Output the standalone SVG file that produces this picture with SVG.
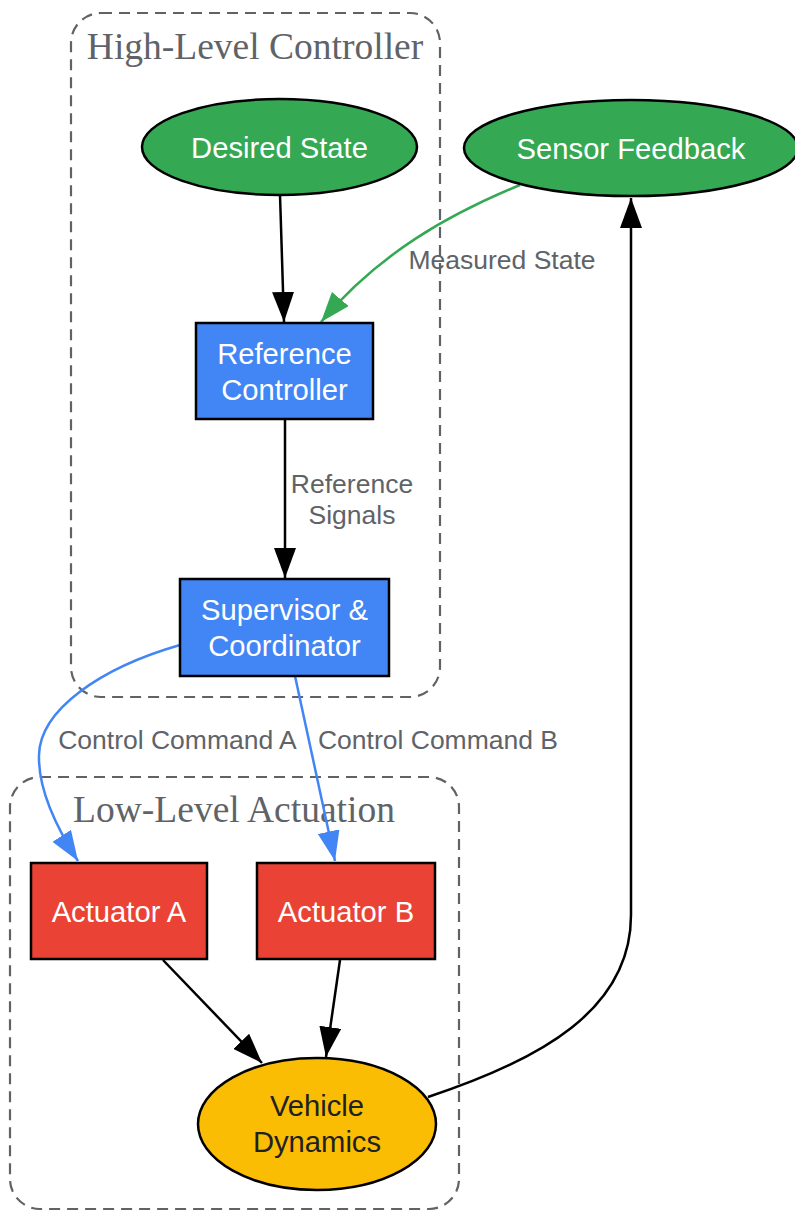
<svg xmlns="http://www.w3.org/2000/svg" width="795" height="1211" viewBox="0 0 795 1211">
<style>
.cluster{fill:none;stroke:#5f6368;stroke-width:2.2;stroke-dasharray:11,7}
.ctitle{font-family:"Liberation Serif","Times New Roman",serif;font-size:37.5px;fill:#5f6368;text-anchor:middle}
.node{stroke:#000;stroke-width:2.5}
.nt{font-family:"Liberation Sans",Arial,sans-serif;font-size:29.2px;fill:#fff;text-anchor:middle}
.nt.dark{fill:#202124}
.el{font-family:"Liberation Sans",Arial,sans-serif;font-size:26.5px;fill:#5f6368;text-anchor:middle}
.e{fill:none;stroke-width:2.5}
.k{stroke:#000}
.g{stroke:#34a853}
.b{stroke:#4285f4}
</style>
<defs>
<marker id="ak" markerUnits="userSpaceOnUse" markerWidth="30" markerHeight="22" refX="30" refY="11" orient="auto"><path d="M0,0 L30,11 L0,22 Z" fill="#000"/></marker>
<marker id="ag" markerUnits="userSpaceOnUse" markerWidth="30" markerHeight="22" refX="30" refY="11" orient="auto"><path d="M0,0 L30,11 L0,22 Z" fill="#34a853"/></marker>
<marker id="ab" markerUnits="userSpaceOnUse" markerWidth="30" markerHeight="22" refX="30" refY="11" orient="auto"><path d="M0,0 L30,11 L0,22 Z" fill="#4285f4"/></marker>
</defs>
<rect width="795" height="1211" fill="#fff"/>
<g id="cluster-high">
<rect class="cluster" x="71" y="13" width="369" height="684" rx="30"/>
<text class="ctitle" x="255" y="59">High-Level Controller</text>
</g>
<g id="cluster-low">
<rect class="cluster" x="10" y="777" width="449" height="432" rx="30"/>
<text class="ctitle" x="234" y="822">Low-Level Actuation</text>
</g>
<g id="edges">
<path class="e k" d="M280,195 L284,322" marker-end="url(#ak)"/>
<path class="e g" d="M520,185 C450,214 380,252 321,322" marker-end="url(#ag)"/>
<text class="el" x="502" y="269">Measured State</text>
<path class="e k" d="M285,419 L285,578" marker-end="url(#ak)"/>
<text class="el" x="352" y="493">Reference</text>
<text class="el" x="352" y="524">Signals</text>
<path class="e b" d="M180,645 C100,668 40,710 39,755 C38,790 58,830 78,861" marker-end="url(#ab)"/>
<text class="el" x="177.5" y="749">Control Command A</text>
<path class="e b" d="M295,676 L335,861" marker-end="url(#ab)"/>
<text class="el" x="438" y="749">Control Command B</text>
<path class="e k" d="M163,960 L262,1063" marker-end="url(#ak)"/>
<path class="e k" d="M340,960 L326,1057" marker-end="url(#ak)"/>
<path class="e k" d="M428,1097 C540,1060 631,1010 631,915 L631,198" marker-end="url(#ak)"/>
</g>
<g id="desired-state">
<ellipse class="node" cx="279.5" cy="147" rx="137.5" ry="48" fill="#34a853"/>
<text class="nt" x="279.5" y="157.5">Desired State</text>
</g>
<g id="sensor-feedback">
<ellipse class="node" cx="631" cy="148" rx="167" ry="48" fill="#34a853"/>
<text class="nt" x="631" y="158.5">Sensor Feedback</text>
</g>
<g id="reference-controller">
<rect class="node" x="196" y="323" width="177" height="96" fill="#4285f4"/>
<text class="nt" x="284.5" y="364">Reference</text>
<text class="nt" x="284.5" y="400">Controller</text>
</g>
<g id="supervisor">
<rect class="node" x="180" y="579" width="209" height="97" fill="#4285f4"/>
<text class="nt" x="284.5" y="620">Supervisor &amp;</text>
<text class="nt" x="284.5" y="656">Coordinator</text>
</g>
<g id="actuator-a">
<rect class="node" x="31" y="863" width="176" height="96" fill="#ea4335"/>
<text class="nt" x="119" y="921.5">Actuator A</text>
</g>
<g id="actuator-b">
<rect class="node" x="257" y="863" width="178" height="96" fill="#ea4335"/>
<text class="nt" x="346" y="921.5">Actuator B</text>
</g>
<g id="vehicle-dynamics">
<ellipse class="node" cx="317" cy="1124" rx="119" ry="66" fill="#fbbc04"/>
<text class="nt dark" x="317" y="1116">Vehicle</text>
<text class="nt dark" x="317" y="1152">Dynamics</text>
</g>
</svg>
